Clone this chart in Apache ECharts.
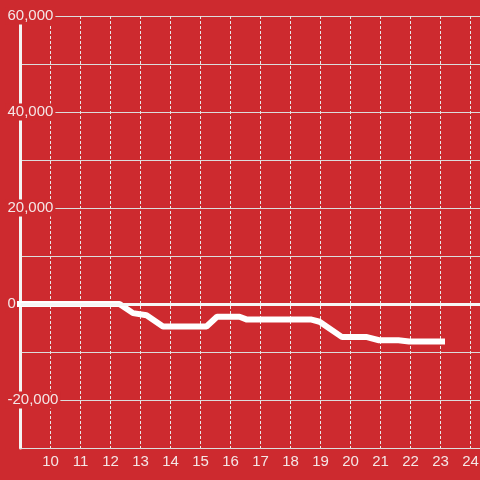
<!DOCTYPE html>
<html>
<head>
<meta charset="utf-8">
<script src="https://cdn.jsdelivr.net/npm/echarts@6/dist/echarts.min.js"></script>
<style>
  html, body { margin: 0; padding: 0; background: #cd2a2f; }
  #chart { width: 480px; height: 480px; }
</style>
</head>
<body>
<div id="chart"></div>
<script>
// line vertices (x = hour, y = value)
const xValues = [8.88, 12.3, 12.75, 13.2, 13.75, 15.2, 15.55, 16.3, 16.55, 18.7, 18.97, 19.72, 20.55, 20.95, 21.6, 21.95, 23.15]
const yValues = [0, 0, -1900, -2350, -4700, -4700, -2650, -2650, -3250, -3250, -3700, -6900, -6900, -7550, -7550, -7800, -7800]
const xTickLabels = [10, 11, 12, 13, 14, 15, 16, 17, 18, 19, 20, 21, 22, 23, 24]
const yTickLabels = [60000, 40000, 20000, 0, -20000]

const bg = '#cd2a2f'
const chart = echarts.init(document.getElementById('chart'))

chart.setOption({
  backgroundColor: bg,
  animation: false,
  textStyle: { fontFamily: 'Liberation Sans' },
  grid: { left: 20.5, right: 0, top: 16, bottom: 32, containLabel: false, outerBoundsMode: 'none' },
  xAxis: {
    type: 'value',
    min: 9,
    max: 24.3167,
    interval: 1,
    axisLine: { show: true, onZero: false, lineStyle: { color: '#ddd', width: 1 } },
    axisTick: { show: false },
    axisLabel: {
      color: '#f4e6e6',
      fontSize: 15,
      margin: 6,
      formatter: v => xTickLabels.includes(v) ? String(v) : ''
    },
    splitLine: { show: true, lineStyle: { color: '#e8e8e8', type: [3, 2], width: 1 } }
  },
  yAxis: {
    type: 'value',
    min: -30000,
    max: 60000,
    interval: 10000,
    axisLine: { show: true, lineStyle: { color: '#f4f4f4', width: 3 } },
    axisTick: { show: false },
    axisLabel: {
      color: '#f4e6e6',
      fontSize: 15,
      align: 'left',
      margin: 15,
      backgroundColor: bg,
      padding: [1, 2],
      formatter: v => yTickLabels.includes(v) ? v.toLocaleString('en-US') : ''
    },
    splitLine: { show: true, lineStyle: { color: '#dcdcdc', width: 1 } }
  },
  series: [{
    type: 'line',
    data: xValues.map((x, i) => [x, yValues[i]]),
    showSymbol: false,
    clip: false,
    lineStyle: { color: '#ffffff', width: 6 },
    markLine: {
      silent: true,
      symbol: 'none',
      label: { show: false },
      lineStyle: { color: '#f6f6f6', width: 3, type: 'solid' },
      data: [{ yAxis: 0 }]
    }
  }]
})
</script>
</body>
</html>
